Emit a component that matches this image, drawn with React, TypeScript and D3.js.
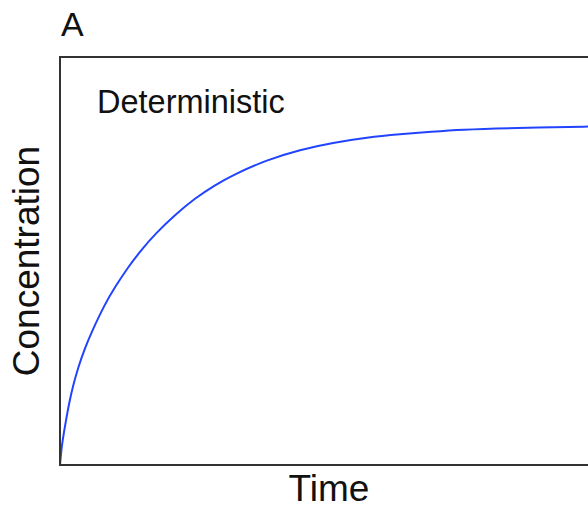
import React from "react";
import * as d3 from "d3";

const times = [0, 0.19, 0.37, 0.74, 1.12, 1.67, 2.42, 3.35, 4.65, 5.95, 8.36, 10.22, 12.64, 15.24, 17.66, 21.38, 25.09, 28.81, 32.16, 38.48, 44.61, 50.74, 57.06, 63.2, 69.14, 74.35, 84.01, 100];
const concentration = [0, 0.029, 0.049, 0.081, 0.11, 0.15, 0.194, 0.238, 0.287, 0.328, 0.395, 0.436, 0.485, 0.529, 0.566, 0.613, 0.654, 0.686, 0.711, 0.748, 0.773, 0.79, 0.803, 0.811, 0.817, 0.822, 0.826, 0.83];

const panelLabel = "A";
const modelLabel = "Deterministic";
const xLabel = "Time";
const yLabel = "Concentration";

export default function App() {
  const W = 588, H = 508;
  const left = 60, right = 598, top = 57, bottom = 465;
  const x = d3.scaleLinear().domain([0, 100]).range([left, right]);
  const y = d3.scaleLinear().domain([0, 1]).range([bottom, top]);
  const data = times.map((t, i) => [t, concentration[i]] as [number, number]);
  const line = d3.line<[number, number]>()
    .x(d => x(d[0]))
    .y(d => y(d[1]))
    .curve(d3.curveBasis);
  const font = "'Liberation Sans', Arial, Helvetica, sans-serif";
  return (
    <svg width={W} height={H} style={{ position: "absolute", left: 0, top: 0, background: "#fff" }}>
      <rect x={0} y={0} width={W} height={H} fill="#fff" />
      <path d={line(data) || ""} fill="none" stroke="#2244ff" strokeWidth={2} />
      <rect x={left} y={top} width={right - left} height={bottom - top} fill="none" stroke="#333" strokeWidth={2} />
      <text x={61} y={36} fontFamily={font} fontSize={34} fill="#111">{panelLabel}</text>
      <text x={97} y={113} fontFamily={font} fontSize={32.5} fill="#111">{modelLabel}</text>
      <text x={(left + right) / 2} y={501} textAnchor="middle" fontFamily={font} fontSize={37} fill="#111">{xLabel}</text>
      <text transform={`translate(39, ${(top + bottom) / 2}) rotate(-90)`} textAnchor="middle" fontFamily={font} fontSize={37} fill="#111">{yLabel}</text>
    </svg>
  );
}
